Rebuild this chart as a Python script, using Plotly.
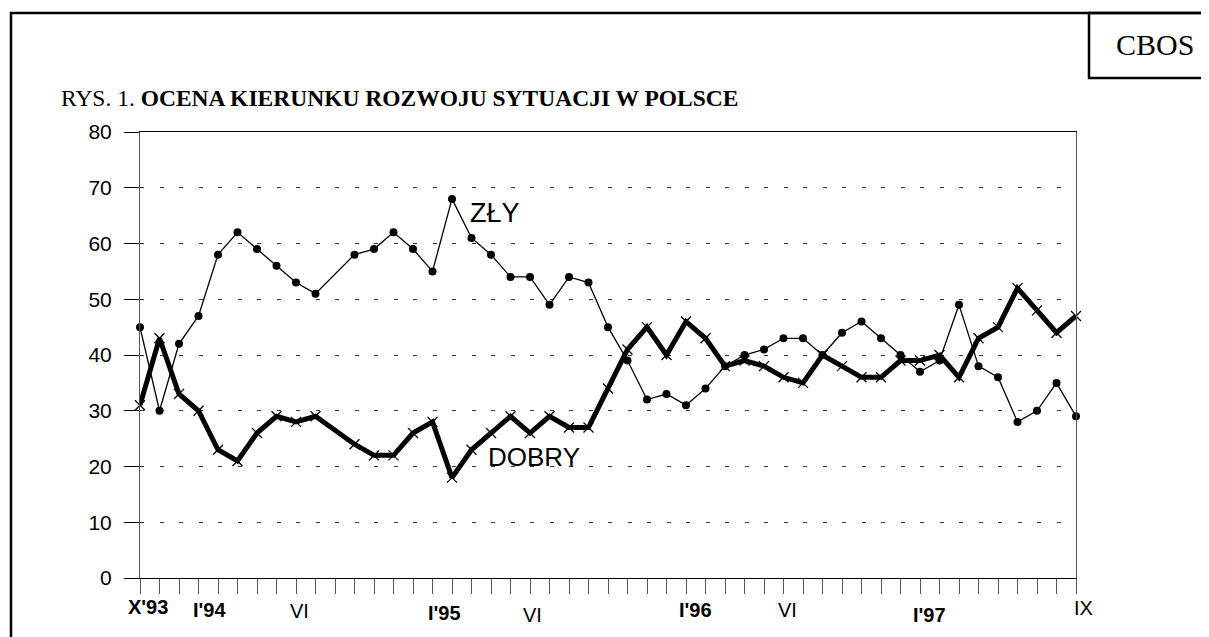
import plotly.graph_objects as go

# 49 survey positions, X'93 .. IX'97 (position 10 has no survey)
positions = list(range(49))
zly = [45, 30, 42, 47, 58, 62, 59, 56, 53, 51, None, 58, 59, 62, 59, 55, 68,
       61, 58, 54, 54, 49, 54, 53, 45, 39, 32, 33, 31, 34, 38, 40, 41,
       43, 43, 40, 44, 46, 43, 40, 37, 39, 49, 38, 36, 28, 30, 35, 29]
dobry = [31, 43, 33, 30, 23, 21, 26, 29, 28, 29, None, 24, 22, 22, 26, 28, 18,
         23, 26, 29, 26, 29, 27, 27, 34, 41, 45, 40, 46, 43, 38, 39, 38,
         36, 35, 40, 38, 36, 36, 39, 39, 40, 36, 43, 45, 52, 48, 44, 47]
x_labels = ["X'93", "I'94", "VI", "I'95", "VI", "I'96", "VI", "I'97", "IX"]
x_label_pos = [0.41, 3.54, 8.19, 15.6, 20.15, 28.5, 33.2, 40.5, 48.4]
x_label_bold = [True, True, False, True, False, True, False, True, False]
x_label_ypx = [607, 609.5, 611, 613, 615, 610, 610, 615, 608]
y_ticks = [0, 10, 20, 30, 40, 50, 60, 70, 80]

OFF = 8  # page body margin
W, H = 1209 - OFF, 637 - OFF
L, R, T, B = 140 - OFF, 1076 - OFF, 132 - OFF, 578 - OFF
XMAX = 48


def px(xp):
    return (xp - OFF - L) / (R - L)


def py(yp):
    return (B - (yp - OFF)) / (B - T)


def pidx(i):
    return i / XMAX


fig = go.Figure()
fig.add_trace(go.Scatter(
    x=positions, y=zly, mode="lines+markers", connectgaps=True,
    line=dict(color="black", width=1.3),
    marker=dict(symbol="circle", size=8, color="black"),
    cliponaxis=False, showlegend=False, name="ZŁY"))
fig.add_trace(go.Scatter(
    x=positions, y=dobry, mode="lines+markers", connectgaps=True,
    line=dict(color="black", width=5),
    marker=dict(symbol="x-thin", size=10, line=dict(color="black", width=1.3)),
    cliponaxis=False, showlegend=False, name="DOBRY"))

annotations = []
for lab, xp, bold, yp in zip(x_labels, x_label_pos, x_label_bold, x_label_ypx):
    annotations.append(dict(
        x=pidx(xp), xref="paper", y=py(yp), yref="paper", showarrow=False,
        text=f"<b>{lab}</b>" if bold else lab, xanchor="center", yanchor="middle",
        font=dict(family="Liberation Sans, Arial", size=20, color="black")))

annotations += [
    dict(x=18.2, y=65.5, xref="x", yref="y", text="ZŁY", showarrow=False,
         xanchor="center", yanchor="middle",
         font=dict(family="Liberation Sans, Arial", size=27, color="black")),
    dict(x=20.18, y=21.7, xref="x", yref="y", text="DOBRY", showarrow=False,
         xanchor="center", yanchor="middle",
         font=dict(family="Liberation Sans, Arial", size=26, color="black")),
    dict(x=px(59), y=py(98), xref="paper", yref="paper", showarrow=False,
         xanchor="left", yanchor="middle",
         text="RYS. 1. <b>OCENA KIERUNKU ROZWOJU SYTUACJI W POLSCE</b>",
         font=dict(family="Liberation Serif, Times New Roman", size=23.5, color="black")),
    dict(x=px(1155), y=py(44), xref="paper", yref="paper", showarrow=False,
         xanchor="center", yanchor="middle", text="CBOS",
         font=dict(family="Liberation Serif, Times New Roman", size=30, color="black")),
]

shapes = [
    dict(type="rect", xref="paper", yref="paper",
         x0=px(11), x1=px(1215), y0=py(650), y1=py(13),
         line=dict(color="black", width=2.5), layer="above"),
    dict(type="rect", xref="paper", yref="paper",
         x0=px(1089), x1=px(1215), y0=py(78), y1=py(13),
         line=dict(color="black", width=2.5), layer="above"),
]

fig.update_layout(
    width=W, height=H,
    margin=dict(l=L, r=W - R, t=T, b=H - B),
    paper_bgcolor="white", plot_bgcolor="white",
    annotations=annotations, shapes=shapes,
    xaxis=dict(range=[0, XMAX], tickvals=positions, ticktext=[""] * len(positions),
               ticks="outside", ticklen=15, tickcolor="#555", tickwidth=1,
               showgrid=False, zeroline=False, showline=True, linecolor="black",
               linewidth=1, mirror=True, fixedrange=True),
    yaxis=dict(range=[0, 80], tickvals=y_ticks, ticks="outside", ticklen=15,
               tickcolor="black", tickwidth=1, showgrid=True, gridcolor="#333",
               griddash="4px,15.5px", gridwidth=1, zeroline=False,
               showline=True, linecolor="#555", linewidth=1, mirror=True,
               ticklabelstandoff=8,
               tickfont=dict(family="Liberation Sans, Arial", size=21, color="black"),
               fixedrange=True),
)

fig.write_html("out.html")
